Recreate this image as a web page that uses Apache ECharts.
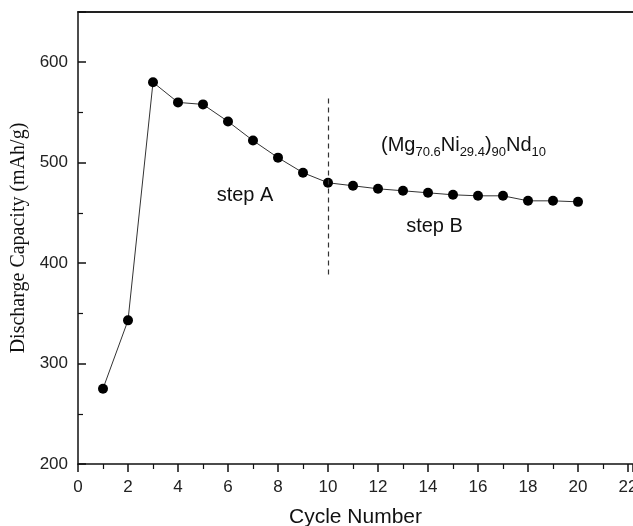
<!DOCTYPE html>
<html>
<head>
<meta charset="utf-8">
<script src="https://cdn.jsdelivr.net/npm/echarts@6/dist/echarts.min.js"></script>
<style>
  html, body { margin: 0; padding: 0; background: #fff; }
  #chart { width: 633px; height: 526px; }
</style>
</head>
<body>
<div id="chart"></div>
<script>
// cycle number vs discharge capacity
var cycles = [1, 2, 3, 4, 5, 6, 7, 8, 9, 10, 11, 12, 13, 14, 15, 16, 17, 18, 19, 20]
var capacity = [275, 343, 580, 560, 558, 541, 522, 505, 490, 480, 477, 474, 472, 470, 468, 467, 467, 462, 462, 461]
var yTicks = [200, 300, 400, 500, 600]
var stepLine = [[10, 564], [10, 388]]

var chart = echarts.init(document.getElementById('chart'))
var sans = 'Liberation Sans, Arial, sans-serif'
var axisFont = { fontFamily: sans, fontSize: 17, color: '#222' }

var option = {
  animation: false,
  grid: { left: 78, right: 0, top: 12, bottom: 62, outerBoundsMode: 'none', containLabel: false },
  xAxis: [{
    type: 'value', min: 0, max: 22.2, interval: 2,
    name: 'Cycle Number', nameLocation: 'middle', nameGap: 43,
    nameTextStyle: { fontFamily: sans, fontSize: 21, color: '#111' },
    axisLine: { lineStyle: { color: '#111', width: 1.5 } },
    axisTick: { length: 8, lineStyle: { color: '#111', width: 1.5 } },
    minorTick: { show: true, splitNumber: 2, length: 5, lineStyle: { color: '#111', width: 1.2 } },
    axisLabel: Object.assign({ margin: 15, showMaxLabel: false }, axisFont),
    splitLine: { show: false }
  }, {
    type: 'value', position: 'top', min: 0, max: 22.2,
    axisLine: { show: true, lineStyle: { color: '#222', width: 2 } },
    axisTick: { show: false }, axisLabel: { show: false }, splitLine: { show: false }
  }],
  yAxis: {
    type: 'value', min: 200, max: 650, interval: 100,
    name: 'Discharge Capacity (mAh/g)', nameLocation: 'middle', nameGap: 47,
    nameTextStyle: { fontFamily: 'Liberation Serif, Times New Roman, serif', fontSize: 20, color: '#111' },
    axisLine: { show: true, lineStyle: { color: '#111', width: 1.5 } },
    axisTick: { inside: true, length: 8, lineStyle: { color: '#111', width: 1.5 } },
    minorTick: { show: true, splitNumber: 2, length: 5, lineStyle: { color: '#111', width: 1.2 } },
    axisLabel: Object.assign({
      margin: 10,
      formatter: function (v) { return yTicks.indexOf(v) >= 0 ? String(v) : '' }
    }, axisFont),
    splitLine: { show: false }
  },
  series: [{
    type: 'line',
    data: cycles.map(function (c, i) { return [c, capacity[i]] }),
    symbol: 'circle', symbolSize: 10,
    itemStyle: { color: '#000' },
    lineStyle: { color: '#333', width: 1 },
    markLine: {
      silent: true, symbol: 'none', label: { show: false },
      lineStyle: { type: [5, 4], color: '#333', width: 1.2 },
      data: [[{ coord: stepLine[0] }, { coord: stepLine[1] }]]
    }
  }]
}
chart.setOption(option)

// annotations placed via data coordinates
function px(p) { return chart.convertToPixel({ xAxisIndex: 0, yAxisIndex: 0 }, p) }
var pA = px([6.68, 467.6]), pB = px([14.26, 436.8]), pF = px([12.12, 517])
chart.setOption({
  graphic: [
    { type: 'text', x: pA[0], y: pA[1], style: { text: 'step A', font: '20px ' + sans, fill: '#111', align: 'center', verticalAlign: 'middle' } },
    { type: 'text', x: pB[0], y: pB[1], style: { text: 'step B', font: '20px ' + sans, fill: '#111', align: 'center', verticalAlign: 'middle' } },
    { type: 'text', x: pF[0], y: pF[1], style: {
      text: '{m|(Mg}{s|70.6}{m|Ni}{s|29.4}{m|)}{s|90}{m|Nd}{s|10}',
      align: 'left', verticalAlign: 'middle',
      rich: {
        m: { fontFamily: sans, fontSize: 20, fill: '#111', lineHeight: 26, verticalAlign: 'middle' },
        s: { fontFamily: sans, fontSize: 13, fill: '#111', lineHeight: 26, verticalAlign: 'bottom', padding: [13, 0, 0, 0] }
      }
    } }
  ]
})
</script>
</body>
</html>
